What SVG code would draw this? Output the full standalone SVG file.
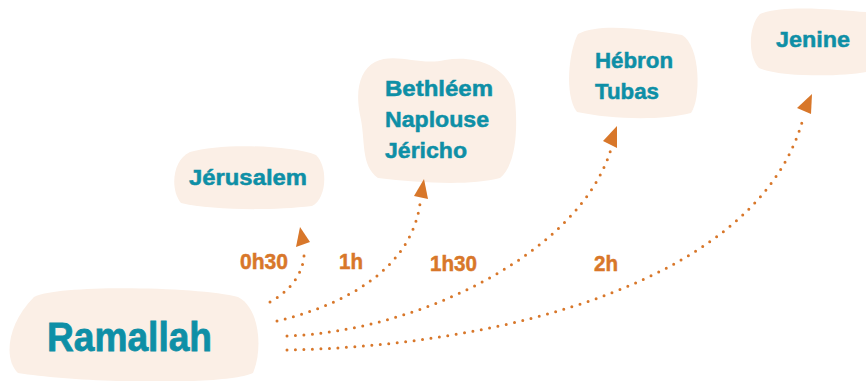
<svg xmlns="http://www.w3.org/2000/svg" width="866" height="381" viewBox="0 0 866 381">
<style>
.blob{fill:#FBEFE6;}
.city{font-family:"Liberation Sans",Arial,sans-serif;font-weight:bold;fill:#0E8FA6;stroke:#0E8FA6;stroke-width:0.5;font-size:22px;}
.big{font-size:40px;stroke-width:0.8;}
.time{font-family:"Liberation Sans",Arial,sans-serif;font-weight:bold;fill:#D8772A;stroke:#D8772A;stroke-width:0.5;font-size:22px;}
.dot{fill:none;stroke:#D8772A;stroke-width:3;stroke-linecap:round;stroke-dasharray:0 8.5;}
.head{fill:#D8772A;}
</style>
<rect width="866" height="381" fill="#fff"/>
<g id="ramallah">
<path class="blob" d="M34,297 C60,284 200,287 238,297 C260,308 263,350 253,373 C225,386 80,383 18,373 C4,360 6,325 34,297 Z"/>
<text class="city big" x="47" y="351" textLength="165" lengthAdjust="spacingAndGlyphs">Ramallah</text>
</g>
<g id="jerusalem">
<path class="blob" d="M190,152 C220,143 290,145 316,155 C329,168 326,200 312,206 C270,211 210,210 181,203 C170,190 172,160 190,152 Z"/>
<text class="city" x="189" y="185" textLength="118" lengthAdjust="spacingAndGlyphs">Jérusalem</text>
</g>
<g id="bethleem">
<path class="blob" d="M375,62 C395,52 420,66 445,60 C480,54 512,70 515,100 C518,130 516,165 500,178 C470,186 420,183 378,178 C360,165 366,140 360,115 C355,90 360,70 375,62 Z"/>
<text class="city" x="385" y="96" textLength="108" lengthAdjust="spacingAndGlyphs">Bethléem</text>
<text class="city" x="385" y="127" textLength="104" lengthAdjust="spacingAndGlyphs">Naplouse</text>
<text class="city" x="385" y="158" textLength="82" lengthAdjust="spacingAndGlyphs">Jéricho</text>
</g>
<g id="hebron">
<path class="blob" d="M578,34 C600,22 650,30 682,35 C701,46 701,100 691,113 C660,121 610,119 577,112 C564,95 569,50 578,34 Z"/>
<text class="city" x="595" y="68" textLength="78" lengthAdjust="spacingAndGlyphs">Hébron</text>
<text class="city" x="595" y="99" textLength="64" lengthAdjust="spacingAndGlyphs">Tubas</text>
</g>
<g id="jenine">
<path class="blob" d="M760,14 C782,4 840,10 866,12 L866,72 C840,77 780,77 759,68 C747,55 749,25 760,14 Z"/>
<text class="city" x="776" y="47" textLength="74" lengthAdjust="spacingAndGlyphs">Jenine</text>
</g>
<g id="connectors">
<path class="dot" d="M270,302 C290,291 306,272 304,248"/>
<polygon class="head" points="300,227 296,247 310,242"/>
<path class="dot" d="M277,321 C340,306 410,272 420,204"/>
<polygon class="head" points="424,179 414,196 428,199"/>
<path class="dot" d="M287,336 C420,331 580,252 611,149"/>
<polygon class="head" points="617,126 603,141 617,148"/>
<path class="dot" d="M287,350 C500,346 762,282 804,115"/>
<polygon class="head" points="812,94 797,108 811,114"/>
<text class="time" x="240" y="269" textLength="48" lengthAdjust="spacingAndGlyphs">0h30</text>
<text class="time" x="339" y="269" textLength="24" lengthAdjust="spacingAndGlyphs">1h</text>
<text class="time" x="430" y="271" textLength="47" lengthAdjust="spacingAndGlyphs">1h30</text>
<text class="time" x="594" y="271" textLength="24" lengthAdjust="spacingAndGlyphs">2h</text>
</g>
</svg>
